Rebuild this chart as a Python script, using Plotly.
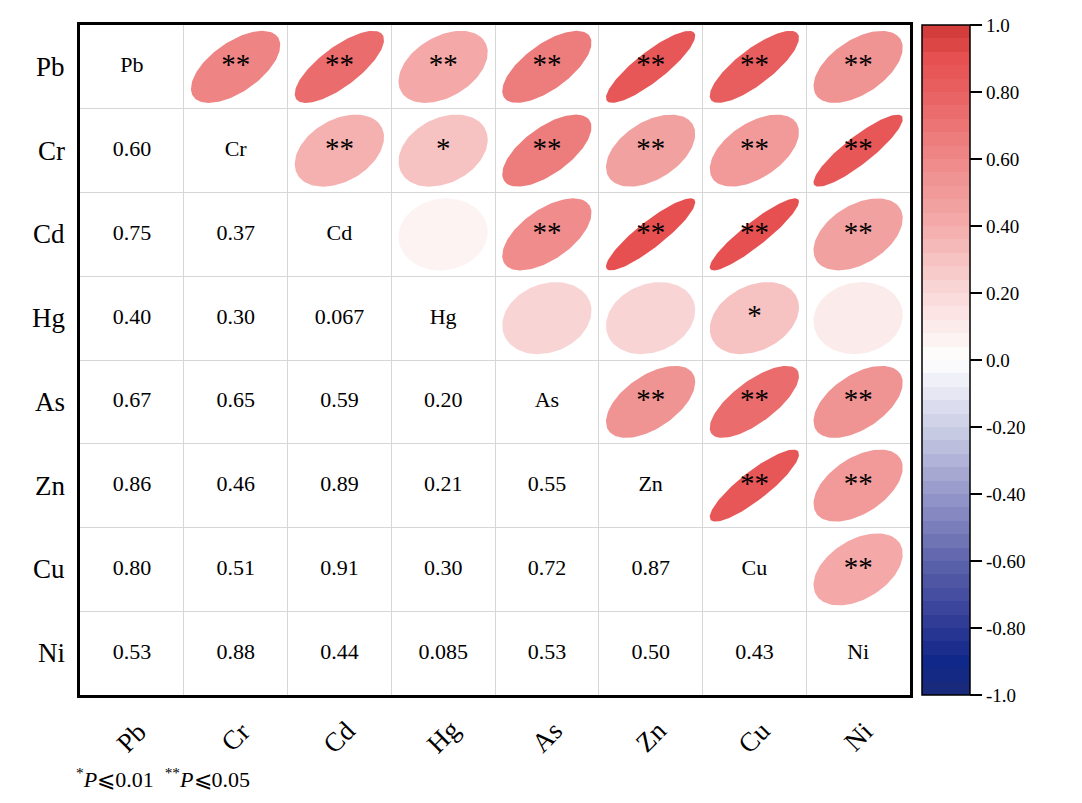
import numpy as np
import plotly.graph_objects as go

# elements (rows top->bottom, columns left->right)
elements = ["Pb", "Cr", "Cd", "Hg", "As", "Zn", "Cu", "Ni"]

# lower triangle correlation values, row i holds r(i, j) for j < i
corr_lower = [
    [],
    [0.60],
    [0.75, 0.37],
    [0.40, 0.30, 0.067],
    [0.67, 0.65, 0.59, 0.20],
    [0.86, 0.46, 0.89, 0.21, 0.55],
    [0.80, 0.51, 0.91, 0.30, 0.72, 0.87],
    [0.53, 0.88, 0.44, 0.085, 0.53, 0.50, 0.43],
]

# significance marks in upper triangle, row i holds marks for j > i
sig_upper = [
    ["**", "**", "**", "**", "**", "**", "**"],
    ["**", "*", "**", "**", "**", "**"],
    ["", "**", "**", "**", "**"],
    ["", "", "*", ""],
    ["**", "**", "**"],
    ["**", "**"],
    ["**"],
    [],
]

# colorbar ticks
cbar_vals = [-1.0, -0.8, -0.6, -0.4, -0.2, 0.0, 0.2, 0.4, 0.6, 0.8, 1.0]
cbar_text = ["-1.0", "-0.80", "-0.60", "-0.40", "-0.20", "0.0",
             "0.20", "0.40", "0.60", "0.80", "1.0"]

FONT = "Liberation Serif"
N_BANDS = 50
anchors = [
    (-1.0, (27, 42, 120)), (-0.9, (16, 40, 138)), (-0.8, (44, 56, 148)),
    (-0.6, (94, 100, 172)), (-0.4, (150, 152, 202)), (-0.2, (204, 207, 230)),
    (0.0, (255, 255, 255)), (0.2, (250, 216, 216)), (0.4, (244, 172, 172)),
    (0.6, (239, 136, 136)), (0.75, (234, 106, 106)), (0.9, (230, 80, 80)),
    (1.0, (206, 58, 55)),
]


def interp_color(v):
    for (v0, c0), (v1, c1) in zip(anchors[:-1], anchors[1:]):
        if v0 <= v <= v1:
            f = (v - v0) / (v1 - v0)
            c = [round(a + (b - a) * f) for a, b in zip(c0, c1)]
            return "rgb(%d,%d,%d)" % tuple(c)
    return "rgb(%d,%d,%d)" % anchors[-1][1]


def band_color(v):
    w = 2.0 / N_BANDS
    idx = min(int((v + 1) / w), N_BANDS - 1)
    return interp_color(-1 + w * (idx + 0.5))


# stepped colorscale
colorscale = []
for k in range(N_BANDS):
    c = interp_color(-1 + (2.0 / N_BANDS) * (k + 0.5))
    colorscale.append([k / N_BANDS, c])
    colorscale.append([(k + 1) / N_BANDS, c])


def corr(i, j):
    return corr_lower[max(i, j)][min(i, j)]


def fmt(v):
    return "%.3f" % v if abs(v) < 0.1 else "%.2f" % v


fig = go.Figure()

# ellipses in upper triangle
t = np.linspace(0, 2 * np.pi, 120)
rad = 0.43
for i in range(len(elements)):
    for j in range(i + 1, len(elements)):
        r = corr(i, j)
        d = np.arccos(r)
        ex = j + rad * np.cos(t + d / 2)
        ey = i - rad * np.cos(t - d / 2)
        fig.add_trace(go.Scatter(
            x=ex, y=ey, mode="lines", fill="toself",
            fillcolor=band_color(r), line=dict(width=0),
            hoverinfo="skip", showlegend=False
        ))

# stars
sx, sy, st = [], [], []
for i, row in enumerate(sig_upper):
    for k, s in enumerate(row):
        if s:
            sx.append(i + 1 + k)
            sy.append(i)
            st.append(s)
fig.add_trace(go.Scatter(
    x=sx, y=sy, text=st, mode="text",
    textfont=dict(family=FONT, size=29, color="black"),
    hoverinfo="skip", showlegend=False
))

# numbers in lower triangle
nx, ny, nt = [], [], []
for i, row in enumerate(corr_lower):
    for j, v in enumerate(row):
        nx.append(j)
        ny.append(i)
        nt.append(fmt(v))
fig.add_trace(go.Scatter(
    x=nx, y=ny, text=nt, mode="text",
    textfont=dict(family=FONT, size=22, color="black"),
    hoverinfo="skip", showlegend=False
))

# diagonal labels
fig.add_trace(go.Scatter(
    x=list(range(len(elements))), y=list(range(len(elements))),
    text=elements, mode="text",
    textfont=dict(family=FONT, size=22, color="black"),
    hoverinfo="skip", showlegend=False
))

# colorbar holder
fig.add_trace(go.Scatter(
    x=[None], y=[None], mode="markers", hoverinfo="skip", showlegend=False,
    marker=dict(
        color=[0], cmin=-1, cmax=1, colorscale=colorscale, showscale=True,
        colorbar=dict(
            x=1.0145, xanchor="left", y=0.5, yanchor="middle",
            len=1, lenmode="fraction", thickness=48,
            xpad=0, ypad=0, outlinewidth=1.5, outlinecolor="black",
            ticks="outside", ticklen=12, tickwidth=2, tickcolor="black",
            tickvals=cbar_vals, ticktext=cbar_text,
            tickfont=dict(family=FONT, size=19, color="black"),
        ),
    ),
))

grid = [k + 0.5 for k in range(len(elements) - 1)]
axis_common = dict(
    showline=True, mirror=True, linecolor="black", linewidth=2.5,
    tickmode="array", tickvals=grid, showticklabels=False, ticks="",
    showgrid=True, gridcolor="#d6d6d6", gridwidth=1, zeroline=False,
    fixedrange=True,
)
fig.update_xaxes(range=[-0.5, len(elements) - 0.5], **axis_common)
fig.update_yaxes(range=[len(elements) - 0.5, -0.5], **axis_common)

annotations = []
for k, name in enumerate(elements):
    annotations.append(dict(
        x=k, y=0, xref="x", yref="paper", xanchor="center", yanchor="middle",
        yshift=-42, text=name, textangle=-45, showarrow=False,
        font=dict(family=FONT, size=27, color="black"),
    ))
    annotations.append(dict(
        x=0, y=k, xref="paper", yref="y", xanchor="right", yanchor="middle",
        xshift=-13, text=name, showarrow=False,
        font=dict(family=FONT, size=27, color="black"),
    ))
annotations.append(dict(
    x=-0.007, y=-0.124, xref="paper", yref="paper", xanchor="left",
    yanchor="middle", showarrow=False,
    text="<sup>*</sup><i>P</i>⩽0.01  <sup>**</sup><i>P</i>⩽0.05",
    font=dict(family=FONT, size=22, color="black"),
))

# page body has an 8px margin, so the figure is shrunk to keep the same layout
fig.update_layout(
    width=1074, height=795,
    margin=dict(l=72, r=172, t=17, b=108),
    paper_bgcolor="white", plot_bgcolor="white",
    annotations=annotations,
)

fig.write_html("out.html", config={"displayModeBar": False})
